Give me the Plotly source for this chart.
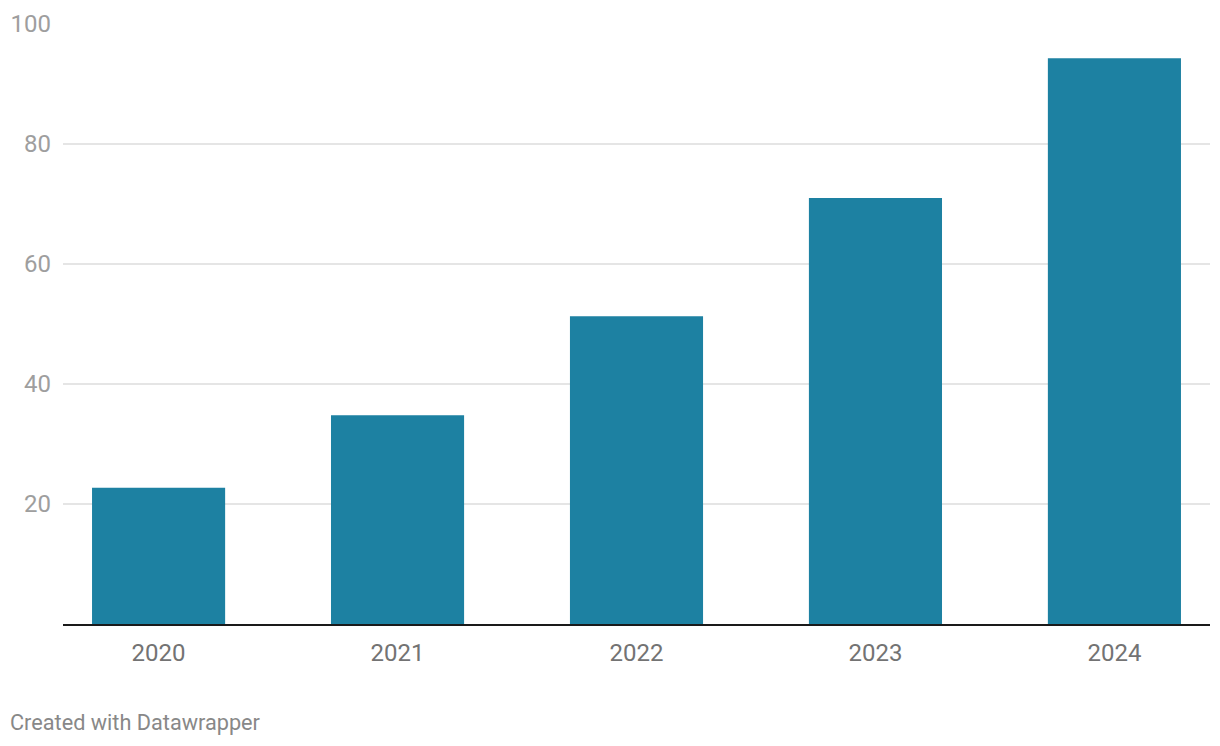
import plotly.graph_objects as go

years = ["2020", "2021", "2022", "2023", "2024"]
values = [22.7, 34.8, 51.3, 71.0, 94.3]
y_ticks = [20, 40, 60, 80, 100]

# page body has an 8px default margin; compensate
OFF = 8
W, H = 1220 - OFF, 746 - OFF
ml, mr, mt, mb = 63 - OFF, 10, 24 - OFF, 122

fig = go.Figure(go.Bar(
    x=years, y=values,
    marker=dict(color="#1d81a2", line=dict(width=0)),
    width=0.557,
    hoverinfo="skip",
))

fig.update_layout(
    width=W, height=H,
    margin=dict(l=ml, r=mr, t=mt, b=mb, pad=0, autoexpand=False),
    plot_bgcolor="white", paper_bgcolor="white",
    font=dict(family="Roboto", size=24),
    showlegend=False,
    xaxis=dict(
        type="category", range=[-0.4, 4.4], automargin=False,
        showline=True, linecolor="#1a1a1a", linewidth=2,
        ticks="", showgrid=False,
        tickfont=dict(size=24, color="#737373", family="Roboto"),
        ticklabelstandoff=6,
    ),
    yaxis=dict(
        range=[0, 100], tickvals=y_ticks, automargin=False,
        showgrid=True, gridcolor="#e5e5e5", gridwidth=2,
        zeroline=False, showline=False, ticks="",
        tickfont=dict(size=24, color="#9e9e9e", family="Roboto"),
        ticklabelstandoff=11,
    ),
    annotations=[dict(
        text="Created with Datawrapper",
        xref="paper", yref="paper",
        x=-(ml - (8 - OFF)) / (W - ml - mr),
        y=-((722 - OFF) - (H - mb)) / (H - mt - mb),
        xanchor="left", yanchor="middle", showarrow=False,
        font=dict(size=21.7, color="#888888", family="Roboto"),
    )],
)

fig.write_html("out.html")
